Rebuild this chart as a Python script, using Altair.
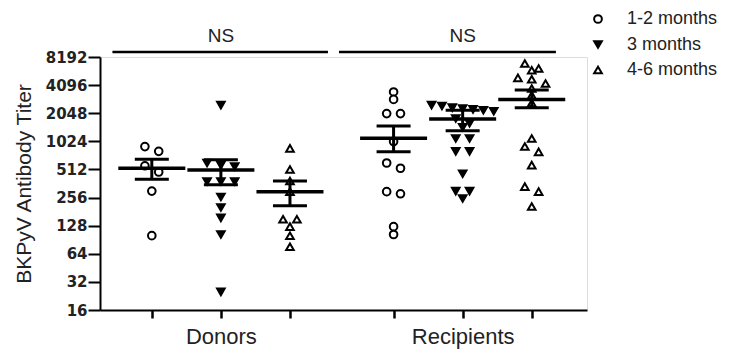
import altair as alt
import numpy as np
import pandas as pd

# ---------------- data ----------------
groups = ["Donors", "Recipients"]
series_names = ["1-2 months", "3 months", "4-6 months"]

donors_1_2 = [900, 800, 560, 480, 300, 100]
donors_3 = [2500, 600, 570, 550, 380, 380, 380, 260, 200, 155, 103, 25]
donors_4_6 = [860, 512, 385, 296, 150, 150, 125, 100, 76]

recip_1_2 = [3460, 2880, 2030, 2030, 1020, 600, 527, 296, 281, 125, 103]
recip_3 = [2500, 2450, 2350, 2300, 2250, 2200, 2150, 1800, 1600, 1450,
           1100, 1100, 800, 800, 460, 300, 300, 250]
recip_4_6 = [6970, 6160, 5910, 4900, 4740, 4270, 3770, 3190, 2640,
             1100, 900, 790, 570, 335, 296, 205]

# mean and SEM drawn in the figure (same order: donors 1-2, 3, 4-6, recipients 1-2, 3, 4-6)
mean_titer = [526, 505, 296, 1104, 1780, 2880]
sem_upper = [657, 650, 385, 1490, 2210, 3620]
sem_lower = [402, 350, 209, 792, 1330, 2340]

y_ticks = [16, 32, 64, 128, 256, 512, 1024, 2048, 4096, 8192]

ns_labels = ["NS", "NS"]
ns_start = [-0.57, 2.71]
ns_end = [2.55, 5.85]
ns_center = [1.0, 4.5]
ns_level = [9260, 9260]

# ---------------- layout helpers ----------------
slot_pos = [0, 1, 2, 3.5, 4.5, 5.5]
all_values = [donors_1_2, donors_3, donors_4_6, recip_1_2, recip_3, recip_4_6]


def swarm(vals, thr=0.23):
    lv = np.log2(np.array(vals, dtype=float))
    order = np.argsort(-lv, kind="stable")
    rows = []
    for i in order:
        if rows and lv[rows[-1][0]] - lv[i] < thr:
            rows[-1].append(i)
        else:
            rows.append([i])
    offs = np.zeros(len(vals))
    for r in rows:
        n = len(r)
        step = 0.2 if n <= 3 else 0.15
        for k, i in enumerate(r):
            offs[i] = (k - (n - 1) / 2) * step
    return offs


recs = []
for k, vals in enumerate(all_values):
    g = groups[k // 3]
    s = series_names[k % 3]
    offs = swarm(vals)
    for v, o in zip(vals, offs):
        recs.append({"group": g, "series": s, "titer": v, "x": slot_pos[k] + o})
pts = pd.DataFrame(recs)

summ = pd.DataFrame({"x": slot_pos, "mean": mean_titer, "lo": sem_lower, "hi": sem_upper})
ns = pd.DataFrame({"label": ns_labels, "x0": ns_start, "x1": ns_end, "xc": ns_center, "y": ns_level})

FONT = "Liberation Sans"
xscale = alt.Scale(domain=[-0.75, 6.3], nice=False, zero=False)
yscale = alt.Scale(type="log", base=2, domain=[16, 8192], nice=False)

label_expr = "datum.value == 1 ? 'Donors' : (datum.value == 4.5 ? 'Recipients' : '')"

x_enc = alt.X(
    "x:Q", scale=xscale,
    axis=alt.Axis(values=slot_pos, labelExpr=label_expr, title=None, grid=False,
                  tickSize=8, tickWidth=2.5, tickColor="black", domainWidth=2,
                  domainColor="black", labelFontSize=22, labelFont=FONT,
                  labelColor="#222", labelPadding=8, labelOverlap=False,
                  labelFlush=False, labelBound=False),
)
y_enc = alt.Y(
    "titer:Q", scale=yscale,
    axis=alt.Axis(values=y_ticks, format="d", title="BKPyV Antibody Titer",
                  titleFontSize=21, titleFont=FONT, titleFontWeight="normal",
                  titleColor="#222", titleX=-76, titleY=126.5, titleAngle=270,
                  titleAlign="center", titleBaseline="middle",
                  labelFontSize=15, labelFontWeight="bold", labelFont="DejaVu Sans",
                  labelColor="#222", labelPadding=1, tickSize=12, tickWidth=2,
                  tickColor="black", domainWidth=2, domainColor="black", grid=False),
)

legend_kw = dict(orient="none", legendX=489, legendY=-47, title=None,
                 labelFontSize=18, labelFont=FONT, labelColor="#222",
                 symbolSize=60, symbolStrokeWidth=2, symbolStrokeColor="black",
                 rowPadding=7.5, labelOffset=20, padding=0)

points = alt.Chart(pts).mark_point(strokeWidth=2, size=58,
                                   opacity=1, fillOpacity=1).encode(
    x=x_enc,
    y=y_enc,
    shape=alt.Shape("series:N",
                    scale=alt.Scale(domain=series_names,
                                    range=["circle", "triangle-down", "triangle-up"]),
                    legend=alt.Legend(**legend_kw)),
    fill=alt.Fill("series:N",
                  scale=alt.Scale(domain=series_names, range=["white", "black", "white"]),
                  legend=alt.Legend(**legend_kw)),
    stroke=alt.Stroke("series:N",
                      scale=alt.Scale(domain=series_names, range=["black", "black", "black"]),
                      legend=alt.Legend(**legend_kw)),
)

base_s = alt.Chart(summ)
vline = base_s.mark_rule(color="black", strokeWidth=3).encode(
    x=alt.X("x:Q", scale=xscale), y=alt.Y("lo:Q", scale=yscale), y2="hi:Q")
mean_tick = base_s.mark_tick(orient="horizontal", size=67, thickness=3.5,
                             color="black", opacity=1).encode(
    x=alt.X("x:Q", scale=xscale), y=alt.Y("mean:Q", scale=yscale))
cap_lo = base_s.mark_tick(orient="horizontal", size=34, thickness=3,
                          color="black", opacity=1).encode(
    x=alt.X("x:Q", scale=xscale), y=alt.Y("lo:Q", scale=yscale))
cap_hi = base_s.mark_tick(orient="horizontal", size=34, thickness=3,
                          color="black", opacity=1).encode(
    x=alt.X("x:Q", scale=xscale), y=alt.Y("hi:Q", scale=yscale))

base_ns = alt.Chart(ns)
ns_line = base_ns.mark_rule(color="black", strokeWidth=2.5).encode(
    x=alt.X("x0:Q", scale=xscale), x2="x1:Q", y=alt.Y("y:Q", scale=yscale))
ns_text = base_ns.mark_text(fontSize=19, font=FONT, color="#222", dy=-10,
                            baseline="alphabetic", align="center").encode(
    x=alt.X("xc:Q", scale=xscale), y=alt.Y("y:Q", scale=yscale), text="label:N")

chart = alt.layer(points, vline, mean_tick, cap_lo, cap_hi, ns_line, ns_text).properties(
    width=487, height=253,
    padding={"left": 92, "top": 49, "right": 140, "bottom": 50},
    autosize=alt.AutoSizeParams(type="none"),
).configure_view(stroke=None).configure(background="white")

chart.save("out.html", embed_options={"renderer": "svg", "actions": False})
